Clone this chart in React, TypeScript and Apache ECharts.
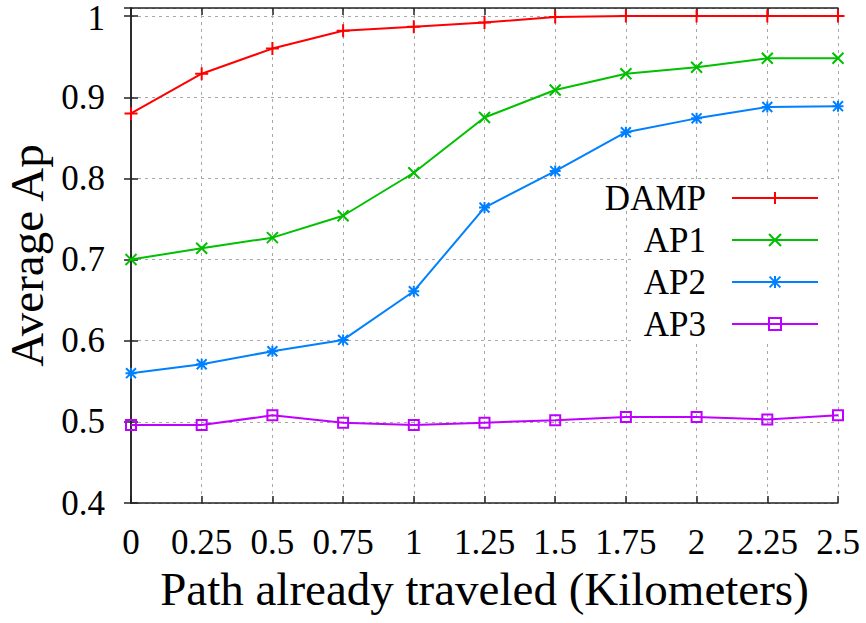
import React, { useEffect, useRef } from "react";
import * as echarts from "echarts";

const xValues = [0, 0.25, 0.5, 0.75, 1, 1.25, 1.5, 1.75, 2, 2.25, 2.5];
const damp = [0.88, 0.929, 0.96, 0.982, 0.987, 0.992, 0.999, 1.0, 1.0, 1.0, 1.0];
const ap1 = [0.7, 0.714, 0.727, 0.754, 0.807, 0.875, 0.909, 0.929, 0.937, 0.948, 0.948];
const ap2 = [0.56, 0.571, 0.587, 0.601, 0.661, 0.764, 0.809, 0.857, 0.874, 0.888, 0.889];
const ap3 = [0.496, 0.496, 0.508, 0.499, 0.496, 0.499, 0.502, 0.506, 0.506, 0.503, 0.508];
const seriesNames = ["DAMP", "AP1", "AP2", "AP3"];
const xTitle = "Path already traveled (Kilometers)";
const yTitle = "Average Ap";

const FONT = "'Liberation Serif', 'Times New Roman', serif";
const AXIS = "#222";

const sym = {
  plus: "path://M5 0V10M0 5H10",
  cross: "path://M0 0L10 10M10 0L0 10",
  star: "path://M5 0V10M0 5H10M0.5 0.5L9.5 9.5M9.5 0.5L0.5 9.5",
  square: "path://M0 0H10V10H0Z",
};

function mk(name: string, vals: number[], color: string, symbol: string, size: number, fill: string) {
  return {
    name,
    type: "line",
    data: xValues.map((x, i) => [x, vals[i]]),
    symbol,
    symbolSize: size,
    showSymbol: true,
    lineStyle: { color, width: 2 },
    itemStyle: { color: fill, borderColor: color, borderWidth: 2 },
    emphasis: { disabled: true },
    z: 3,
  };
}

export default function App() {
  const ref = useRef<HTMLDivElement>(null);
  useEffect(() => {
    if (!ref.current) return;
    const chart = echarts.init(ref.current, null, { renderer: "svg" });
    const tickStyle = { show: true, inside: true, length: 7, lineStyle: { color: AXIS, width: 1.5 } };
    const axisLine = { show: true, lineStyle: { color: AXIS, width: 1.5 } };
    const fmt = (v: number) => String(Math.round(v * 10) / 10);
    chart.setOption({
      animation: false,
      backgroundColor: "#fff",
      grid: { left: 131, right: 28, top: 8, bottom: 120, containLabel: false, outerBoundsMode: "none" },
      xAxis: [
        {
          type: "value",
          min: 0,
          max: 2.5,
          interval: 0.25,
          position: "bottom",
          axisLine,
          axisTick: tickStyle,
          axisLabel: { color: "#000", fontFamily: FONT, fontSize: 35, margin: 22 },
          splitLine: { show: true, lineStyle: { color: "#a8a8a8", type: [3, 4], width: 1 } },
          name: xTitle,
          nameLocation: "middle",
          nameGap: 62,
          nameTextStyle: { color: "#000", fontFamily: FONT, fontSize: 47 },
        },
        {
          type: "value",
          min: 0,
          max: 2.5,
          interval: 0.25,
          position: "top",
          axisLine,
          axisTick: tickStyle,
          axisLabel: { show: false },
          splitLine: { show: false },
        },
      ],
      yAxis: [
        {
          type: "value",
          min: 0.4,
          max: 1.01,
          interval: 0.1,
          position: "left",
          axisLine,
          axisTick: tickStyle,
          axisLabel: {
            color: "#000",
            fontFamily: FONT,
            fontSize: 35,
            lineHeight: 30,
            margin: 26,
            showMaxLabel: false,
            formatter: (v: number) => (v >= 0.999 ? "{t|" + fmt(v) + "}" : fmt(v)),
            rich: {
              t: { color: "#000", fontFamily: FONT, fontSize: 35, lineHeight: 30, padding: [4, 0, 0, 0] },
            },
          },
          splitLine: { show: true, lineStyle: { color: "#a8a8a8", type: [3, 4], width: 1 } },
          name: yTitle,
          nameLocation: "middle",
          nameGap: 78,
          nameTextStyle: { color: "#000", fontFamily: FONT, fontSize: 47 },
        },
        {
          type: "value",
          min: 0.4,
          max: 1.01,
          interval: 0.1,
          position: "right",
          axisLine,
          axisTick: tickStyle,
          axisLabel: { show: false },
          splitLine: { show: false },
        },
      ],
      legend: {
        orient: "vertical",
        align: "right",
        right: 47,
        top: 177,
        padding: 0,
        itemGap: 0,
        itemWidth: 86,
        itemHeight: 15,
        data: seriesNames,
        textStyle: { color: "#000", fontFamily: FONT, fontSize: 35, lineHeight: 42, padding: [0, 21, 0, 0] },
        z: 5,
      },
      graphic: [
        {
          type: "rect",
          shape: { x: 632, y: 180, width: 204, height: 162 },
          style: { fill: "#fff" },
          z: 1,
          silent: true,
        },
      ],
      series: [
        mk(seriesNames[0], damp, "#ff0000", sym.plus, 13, "#ff0000"),
        mk(seriesNames[1], ap1, "#00c000", sym.cross, 11, "#00c000"),
        mk(seriesNames[2], ap2, "#0080ff", sym.star, 11, "#0080ff"),
        mk(seriesNames[3], ap3, "#c000ff", sym.square, 10, "rgba(0,0,0,0)"),
      ],
    });
    return () => chart.dispose();
  }, []);
  return <div ref={ref} style={{ position: "fixed", left: 0, top: 0, width: 866, height: 623 }} />;
}
